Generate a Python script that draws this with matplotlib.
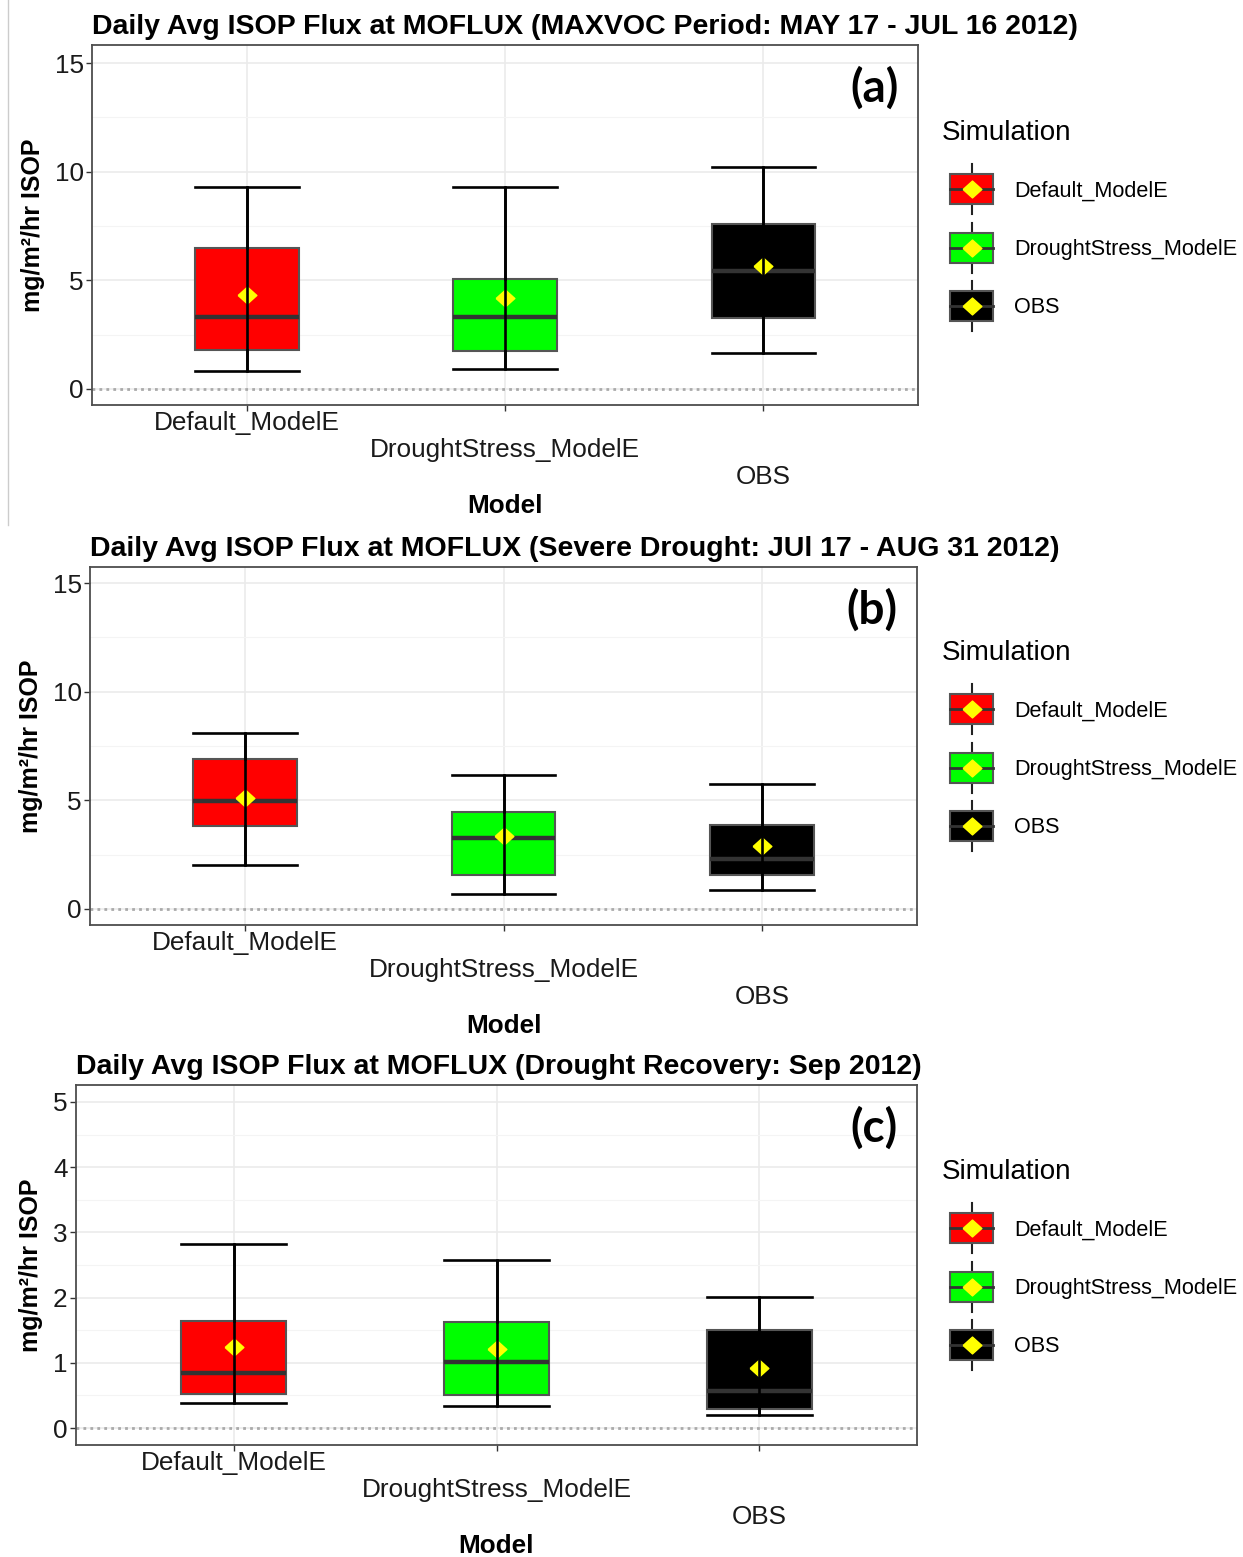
import numpy as np
import matplotlib
matplotlib.use('Agg')
import matplotlib.pyplot as plt
from matplotlib.patches import Patch, Rectangle
from matplotlib.lines import Line2D
from matplotlib.legend_handler import HandlerBase

plt.rcParams['font.family'] = ['Liberation Sans', 'DejaVu Sans']

# categories / colours
models = ['Default_ModelE', 'DroughtStress_ModelE', 'OBS']
box_colors = ['#FF0000', '#00FF00', '#000000']

# (a) MAXVOC period
a_whislo = [0.81, 0.92, 1.65]
a_q1 = [1.77, 1.74, 3.25]
a_med = [3.33, 3.30, 5.43]
a_q3 = [6.48, 5.07, 7.60]
a_whishi = [9.28, 9.28, 10.23]
a_mean = [4.34, 4.20, 5.66]

# (b) severe drought
b_whislo = [2.02, 0.68, 0.89]
b_q1 = [3.82, 1.57, 1.57]
b_med = [4.95, 3.28, 2.32]
b_q3 = [6.89, 4.48, 3.86]
b_whishi = [8.09, 6.15, 5.75]
b_mean = [5.12, 3.34, 2.88]

# (c) drought recovery
c_whislo = [0.39, 0.34, 0.195]
c_q1 = [0.52, 0.51, 0.29]
c_med = [0.845, 1.01, 0.57]
c_q3 = [1.64, 1.62, 1.50]
c_whishi = [2.82, 2.58, 2.01]
c_mean = [1.245, 1.21, 0.92]

titles = ['Daily Avg ISOP Flux at MOFLUX (MAXVOC Period: MAY 17 - JUL 16 2012)',
          'Daily Avg ISOP Flux at MOFLUX (Severe Drought: JUl 17 - AUG 31 2012)',
          'Daily Avg ISOP Flux at MOFLUX (Drought Recovery: Sep 2012)']
letters = ['(a)', '(b)', '(c)']

W, H = 1243, 1557
fig = plt.figure(figsize=(W / 100, H / 100), dpi=100)


def px_rect(l, t, r, b):
    return [l / W, 1 - b / H, (r - l) / W, (b - t) / H]


diamond = [(-1, 0), (0, -0.9), (1, 0), (0, 0.9), (-1, 0)]


class BoxKey(HandlerBase):
    # little boxplot glyph for the legend
    def create_artists(self, legend, orig_handle, xdescent, ydescent,
                       width, height, fontsize, trans):
        off = width * 0.16
        x0, y0 = -xdescent + off, -ydescent
        w = width - off
        cx, cy = x0 + w / 2, y0 + height / 2
        ext = height * 0.33
        rect = Rectangle((x0, y0), w, height, facecolor=orig_handle.get_facecolor(),
                         edgecolor='#555555', lw=1.5, transform=trans)
        wl = Line2D([cx, cx], [y0 - ext, y0 + height + ext], color='#222222', lw=1.5, transform=trans)
        ml = Line2D([x0, x0 + w], [cy, cy], color='#333333', lw=2.0, transform=trans)
        mk = Line2D([cx], [cy], marker=diamond, markersize=13.5, markerfacecolor='yellow',
                    markeredgecolor='yellow', ls='', transform=trans)
        return [wl, rect, ml, mk]


def draw_panel(ax, whislo, q1, med, q3, whishi, mean, ylim, yticks, minor, title, letter):
    pos = np.arange(1, len(models) + 1)
    stats = []
    for i in range(len(models)):
        stats.append(dict(label=models[i], whislo=whislo[i], q1=q1[i], med=med[i],
                          q3=q3[i], whishi=whishi[i], mean=mean[i], fliers=[]))
    bp = ax.bxp(stats, positions=pos, widths=0.4, capwidths=0.4, patch_artist=True,
                showmeans=True, showfliers=False,
                boxprops=dict(edgecolor='#555555', lw=1.5),
                medianprops=dict(color='#333333', lw=3.2),
                whiskerprops=dict(color='black', lw=1.9),
                capprops=dict(color='black', lw=1.9),
                meanprops=dict(marker=diamond, markerfacecolor='yellow',
                               markeredgecolor='yellow', markersize=13.5))
    for patch, col in zip(bp['boxes'], box_colors):
        patch.set_facecolor(col)
    # errorbar line through the box, like stat_boxplot(geom='errorbar')
    ax.vlines(pos, whislo, whishi, color='black', lw=1.9, zorder=4)
    for ln in bp['means']:
        ln.set_zorder(3.5)

    ax.axhline(0, color='#aaaaaa', ls=(0, (1, 1.5)), lw=2, zorder=1)
    ax.set_xlim(0.4, 3.6)
    ax.set_ylim(*ylim)
    ax.set_yticks(yticks)
    ax.set_yticks(minor, minor=True)
    ax.set_xticks(pos)
    ax.set_xticklabels(models)
    ax.grid(True, which='major', color='#EBEBEB', lw=1.2)
    ax.grid(True, which='minor', axis='y', color='#F4F4F4', lw=0.8)
    ax.set_axisbelow(True)
    ax.tick_params(axis='both', which='major', labelsize=18.8, colors='#333333',
                   labelcolor='#1a1a1a', length=4, width=1)
    ax.tick_params(axis='y', which='minor', length=0)
    ax.tick_params(axis='y', pad=2)
    for s in ax.spines.values():
        s.set_color('#4d4d4d')
        s.set_linewidth(1.3)
    for tick, pad in zip(ax.xaxis.get_major_ticks(), [0.3, 20, 39.5]):
        tick.set_pad(pad)
    ax.set_xlabel('Model', fontsize=18.8, fontweight='bold', labelpad=3)
    ax.set_ylabel('mg/m²/hr ISOP', fontsize=18, fontweight='bold', labelpad=7)
    ax.set_title(title, loc='left', fontsize=20.5, fontweight='bold', pad=8)
    ax.text(0.977, 0.88, letter, transform=ax.transAxes, ha='right', va='center',
            fontsize=33, fontweight='bold', family='Lato')


ax_a = fig.add_axes(px_rect(92, 45, 918, 405))
draw_panel(ax_a, a_whislo, a_q1, a_med, a_q3, a_whishi, a_mean,
           (-0.74, 15.83), [0, 5, 10, 15], [2.5, 7.5, 12.5], titles[0], letters[0])

ax_b = fig.add_axes(px_rect(90, 567, 917, 925))
draw_panel(ax_b, b_whislo, b_q1, b_med, b_q3, b_whishi, b_mean,
           (-0.74, 15.74), [0, 5, 10, 15], [2.5, 7.5, 12.5], titles[1], letters[1])

ax_c = fig.add_axes(px_rect(76, 1085, 917, 1445))
draw_panel(ax_c, c_whislo, c_q1, c_med, c_q3, c_whishi, c_mean,
           (-0.26, 5.26), [0, 1, 2, 3, 4, 5], [0.5, 1.5, 2.5, 3.5, 4.5], titles[2], letters[2])

handles = [Patch(facecolor=c) for c in box_colors]
for top in [120, 640, 1159]:
    leg = fig.legend(handles, models, handler_map={Patch: BoxKey()},
                     loc='upper left', bbox_to_anchor=(942 / W, 1 - top / H),
                     frameon=False, title='Simulation', title_fontsize=20,
                     fontsize=15.6, handlelength=2.35, handleheight=1.75,
                     labelspacing=1.31, handletextpad=0.97, borderpad=0,
                     borderaxespad=0, alignment='left')

# thin grey edge left over from the pasted panel
fig.add_artist(Line2D([8 / W, 8 / W], [1, 1 - 525 / H], color='#cccccc', lw=1))

fig.savefig('out.png', dpi=100)
